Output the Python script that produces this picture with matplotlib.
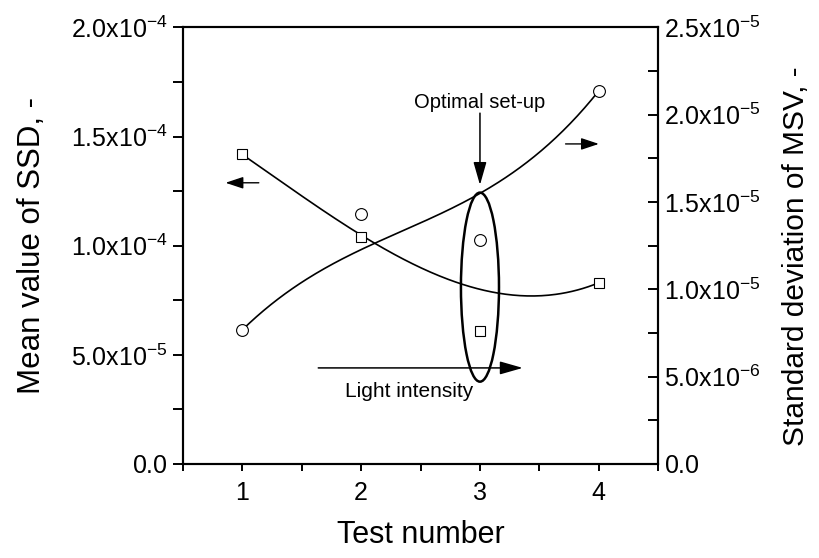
import numpy as np
import matplotlib
matplotlib.use("Agg")
import matplotlib.pyplot as plt
from matplotlib.patches import Ellipse
from matplotlib.ticker import FixedLocator, MultipleLocator
from math import comb

plt.rcParams['font.family'] = ['Liberation Sans', 'DejaVu Sans']
plt.rcParams['mathtext.fontset'] = 'custom'
plt.rcParams['mathtext.rm'] = 'Liberation Sans'

# ---- data ----
test_number = [1, 2, 3, 4]
mean_ssd = [1.418e-4, 1.041e-4, 0.608e-4, 0.830e-4]      # left axis (squares)
std_msv = [7.67e-6, 1.431e-5, 1.282e-5, 2.137e-5]        # right axis (circles)

left_ticks = [0.0, 5.0e-5, 1.0e-4, 1.5e-4, 2.0e-4]
left_labels = [r'$\mathregular{0.0}$', r'$\mathregular{5.0x10^{-5}}$', r'$\mathregular{1.0x10^{-4}}$',
               r'$\mathregular{1.5x10^{-4}}$', r'$\mathregular{2.0x10^{-4}}$']
right_ticks = [0.0, 5.0e-6, 1.0e-5, 1.5e-5, 2.0e-5, 2.5e-5]
right_labels = [r'$\mathregular{0.0}$', r'$\mathregular{5.0x10^{-6}}$', r'$\mathregular{1.0x10^{-5}}$',
                r'$\mathregular{1.5x10^{-5}}$', r'$\mathregular{2.0x10^{-5}}$', r'$\mathregular{2.5x10^{-5}}$']
x_ticks = [1, 2, 3, 4]


def bspline(xs, ys, n=200):
    """Bezier / clamped B-spline curve using the data points as control points."""
    xs = np.asarray(xs, float)
    ys = np.asarray(ys, float)
    k = len(xs) - 1
    t = np.linspace(0, 1, n)
    basis = np.array([comb(k, i) * t**i * (1 - t)**(k - i) for i in range(k + 1)])
    return basis.T @ xs, basis.T @ ys


fig = plt.figure(figsize=(8.19, 5.58), dpi=100)
ax = fig.add_axes([0.2231, 0.1685, 0.5807, 0.7825])
ax2 = ax.twinx()

# curves
cx, cy = bspline(test_number, mean_ssd)
ax.plot(cx, cy, color='black', lw=1.2, zorder=2)
ax.plot(test_number, mean_ssd, ls='none', marker='s', ms=7, mfc='white', mec='black', mew=0.8, zorder=3)

dx, dy = bspline(test_number, std_msv)
ax2.plot(dx, dy, color='black', lw=1.2, zorder=2)
ax2.plot(test_number, std_msv, ls='none', marker='o', ms=8.5, mfc='white', mec='black', mew=0.8, zorder=3)

# limits & ticks
ax.set_xlim(0.5, 4.5)
ax.set_ylim(0, 2.0e-4)
ax2.set_ylim(0, 2.5e-5)

ax.xaxis.set_major_locator(FixedLocator(x_ticks))
ax.xaxis.set_minor_locator(MultipleLocator(0.5))
ax.set_yticks(left_ticks)
ax.set_yticklabels(left_labels)
ax.yaxis.set_minor_locator(MultipleLocator(2.5e-5))
ax2.set_yticks(right_ticks)
ax2.set_yticklabels(right_labels)
ax2.yaxis.set_minor_locator(MultipleLocator(2.5e-6))

ax.tick_params(axis='y', which='both', direction='out', length=7, width=1.4, labelsize=18, pad=4)
ax.tick_params(axis='x', which='both', direction='out', length=5, width=1.4, labelsize=18, pad=7)
ax2.tick_params(axis='y', which='both', direction='in', length=7, width=1.4, labelsize=18, pad=4)

for a in (ax, ax2):
    for s in a.spines.values():
        s.set_linewidth(1.5)

ax.set_xlabel('Test number', fontsize=22)
ax.set_ylabel('Mean value of SSD, -', fontsize=22.5)
ax2.set_ylabel('Standard deviation of MSV, -', fontsize=21.5)
ax.xaxis.set_label_coords(0.5, -0.128)
ax.yaxis.set_label_coords(-0.285, 0.5)
ax2.yaxis.set_label_coords(1.26, 0.475)

# ellipse around optimal set-up
ax.add_patch(Ellipse((3, 0.81e-4), 0.32, 0.866e-4, fill=False, ec='black', lw=1.8, zorder=4))

arrow = dict(arrowstyle='-|>,head_length=0.7,head_width=0.2', color='black', lw=1.1,
             shrinkA=0, shrinkB=0, mutation_scale=20)

ax.annotate('', xy=(3, 1.278e-4), xytext=(3, 1.607e-4), arrowprops=arrow)
ax.text(3, 1.655e-4, 'Optimal set-up', fontsize=14.5, ha='center', va='center')

ax.annotate('', xy=(3.36, 0.44e-4), xytext=(1.64, 0.44e-4), arrowprops=arrow)
ax.text(2.40, 0.33e-4, 'Light intensity', fontsize=15, ha='center', va='center')

small = dict(arrowstyle='-|>,head_length=0.6,head_width=0.2', color='black', lw=1.0,
             shrinkA=0, shrinkB=0, mutation_scale=18)
ax.annotate('', xy=(0.86, 1.288e-4), xytext=(1.14, 1.288e-4), arrowprops=small)
ax.annotate('', xy=(4.0, 1.466e-4), xytext=(3.72, 1.466e-4), arrowprops=small)

fig.savefig('out.png', dpi=100)
